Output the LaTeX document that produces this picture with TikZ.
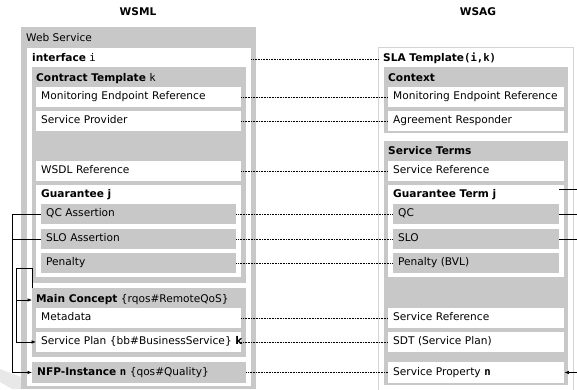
\documentclass[tikz,border=0pt]{standalone}
\usepackage{fontspec}
\setmainfont{DejaVu Sans}
\setsansfont{DejaVu Sans}
\setmonofont{DejaVu Sans Mono}
\usetikzlibrary{arrows.meta}
\definecolor{boxgray}{RGB}{200,200,200}
\definecolor{rimgray}{RGB}{212,212,212}
\begin{document}
\begin{tikzpicture}[x=1pt, y=-1pt, font=\fontsize{10.6}{12}\selectfont,
  frame/.style={anchor=north west, inner sep=0pt, draw=none},
  tag/.style={anchor=west, inner sep=0pt, text height=7.5pt, text depth=2pt},
  field/.style={anchor=north west, inner xsep=5pt, inner ysep=0pt, align=left,
    minimum height=19.5pt, text height=7.5pt, text depth=2pt},
  lbox/.style={field, fill=white, text width=195pt},
  lsub/.style={field, fill=boxgray, text width=185pt},
  lwide/.style={field, fill=boxgray, text width=204pt, minimum height=20.5pt},
  rbox/.style={field, fill=white, text width=166pt},
  rsub/.style={field, fill=boxgray, text width=156pt},
  link/.style={densely dotted, line width=0.6pt},
  wire/.style={line width=0.6pt},
  tip/.style={-{Latex[length=4.5pt,width=3.5pt]}}]
%
\useasboundingbox (0,0) rectangle (577,389);
\fill[gray!18] (0,369) -- (21,377) -- (21,389) -- (12,389) -- (0,382) -- cycle;
%
\node[font=\fontsize{10.6}{12}\selectfont\bfseries] (wsml) at (138,12) {WSML};
\node[font=\fontsize{10.6}{12}\selectfont\bfseries] (wsag) at (478,12) {WSAG};
%
% WSML side
\node[frame, fill=boxgray, minimum width=235pt, minimum height=362pt] (ws) at (21,27) {};
\node[tag] (wst) at (26,39) {Web Service};
\node[frame, fill=white, minimum width=224pt, minimum height=338pt] (if) at (27,48) {};
\node[tag] (ift) at (32,59) {\textbf{interface} \texttt{i}};
\node[frame, fill=boxgray, minimum width=214pt, minimum height=216pt] (ct) at (32,67) {};
\node[tag] (ctt) at (36,79) {\textbf{Contract Template} \texttt{k}};
\node[lbox] (mer) at (36,87) {Monitoring Endpoint Reference};
\node[lbox] (sp) at (36,111) {Service Provider};
\node[lbox] (wsdl) at (36,161) {WSDL Reference};
\node[frame, fill=white, minimum width=205pt, minimum height=92pt] (gj) at (36,185) {};
\node[tag] (gjt) at (41,195) {\textbf{Guarantee j}};
\node[lsub] (qca) at (41,204) {QC Assertion};
\node[lsub] (sloa) at (41,229) {SLO Assertion};
\node[lsub] (pen) at (41,253) {Penalty};
\node[frame, fill=boxgray, minimum width=214pt, minimum height=69pt] (mc) at (32,288) {};
\node[tag] (mct) at (36,300) {\textbf{Main Concept} \{rqos\#RemoteQoS\}};
\node[lbox] (meta) at (36,308) {Metadata};
\node[lbox] (splan) at (36,332) {\rlap{Service Plan \{bb\#BusinessService\} \textbf{k}}};
\node[lwide] (nfp) at (32,362) {\textbf{NFP-Instance} \texttt{\bfseries n} \{qos\#Quality\}};
%
% WSAG side
\node[frame, fill=white, draw=rimgray, line width=1.2pt, minimum width=195pt, minimum height=350pt] (sla) at (378,47) {};
\node[tag] (slat) at (383,59) {\textbf{SLA Template}\texttt{\bfseries(i,k)}};
\node[frame, fill=boxgray, minimum width=184pt, minimum height=66pt] (ctx) at (384,67) {};
\node[tag] (ctxt) at (388,79) {\textbf{Context}};
\node[rbox] (mer2) at (388,87) {Monitoring Endpoint Reference};
\node[rbox] (ar) at (388,111) {Agreement Responder};
\node[frame, fill=boxgray, minimum width=184pt, minimum height=244pt] (st) at (384,141) {};
\node[tag] (stt) at (388,152) {\textbf{Service Terms}};
\node[rbox] (sref) at (388,161) {Service Reference};
\node[frame, fill=white, minimum width=176pt, minimum height=92pt] (gt) at (388,185) {};
\node[tag] (gtt) at (393,195) {\textbf{Guarantee Term j}};
\node[rsub] (qc) at (393,204) {QC};
\node[rsub] (slo) at (393,229) {SLO};
\node[rsub] (pbvl) at (393,253) {Penalty (BVL)};
\node[rbox] (sref2) at (388,308) {Service Reference};
\node[rbox] (sdt) at (388,332) {SDT (Service Plan)};
\node[rbox, minimum height=20.5pt] (sprop) at (388,362) {Service Property \texttt{\bfseries n}};
%
% mappings
\draw[link] (if.east |- ift.west) -- (sla.west |- slat.west);
\draw[link] (mer.east) -- (mer2.west);
\draw[link] (sp.east) -- (ar.west);
\draw[link] (wsdl.east) -- (sref.west);
\draw[link] (qca.east) -- (qc.west);
\draw[link] (sloa.east) -- (slo.west);
\draw[link] (pen.east) -- (pbvl.west);
\draw[link] (meta.east) -- (sref2.west);
\draw[link] (splan.east) -- (sdt.west);
\draw[link] (nfp.east) -- (sprop.west);
%
% brackets
\coordinate (lb1) at (12,0);
\coordinate (lb2) at (16,268);
\draw[wire, tip] (qca.west) -- (qca.west -| lb1) |- (nfp.west);
\draw[wire] (sloa.west) -- (sloa.west -| lb1);
\draw[wire, tip] (mc.north west) -- (mc.north west |- lb2) -- (lb2) |- (splan.west);
\draw[wire, tip] (lb2 |- mct.west) -- (mc.west |- mct.west);
%
\coordinate (edge) at (577,0);
\coordinate (gtend) at (577,189);
\draw[wire] (qc.east |- gtend) -- (gtend);
\draw[wire] (qc.east) -- (qc.east -| edge);
\draw[wire] (slo.east) -- (slo.east -| edge);
\draw[wire, tip] (sprop.east -| edge) -- (sprop.east);
%
\end{tikzpicture}
\end{document}
